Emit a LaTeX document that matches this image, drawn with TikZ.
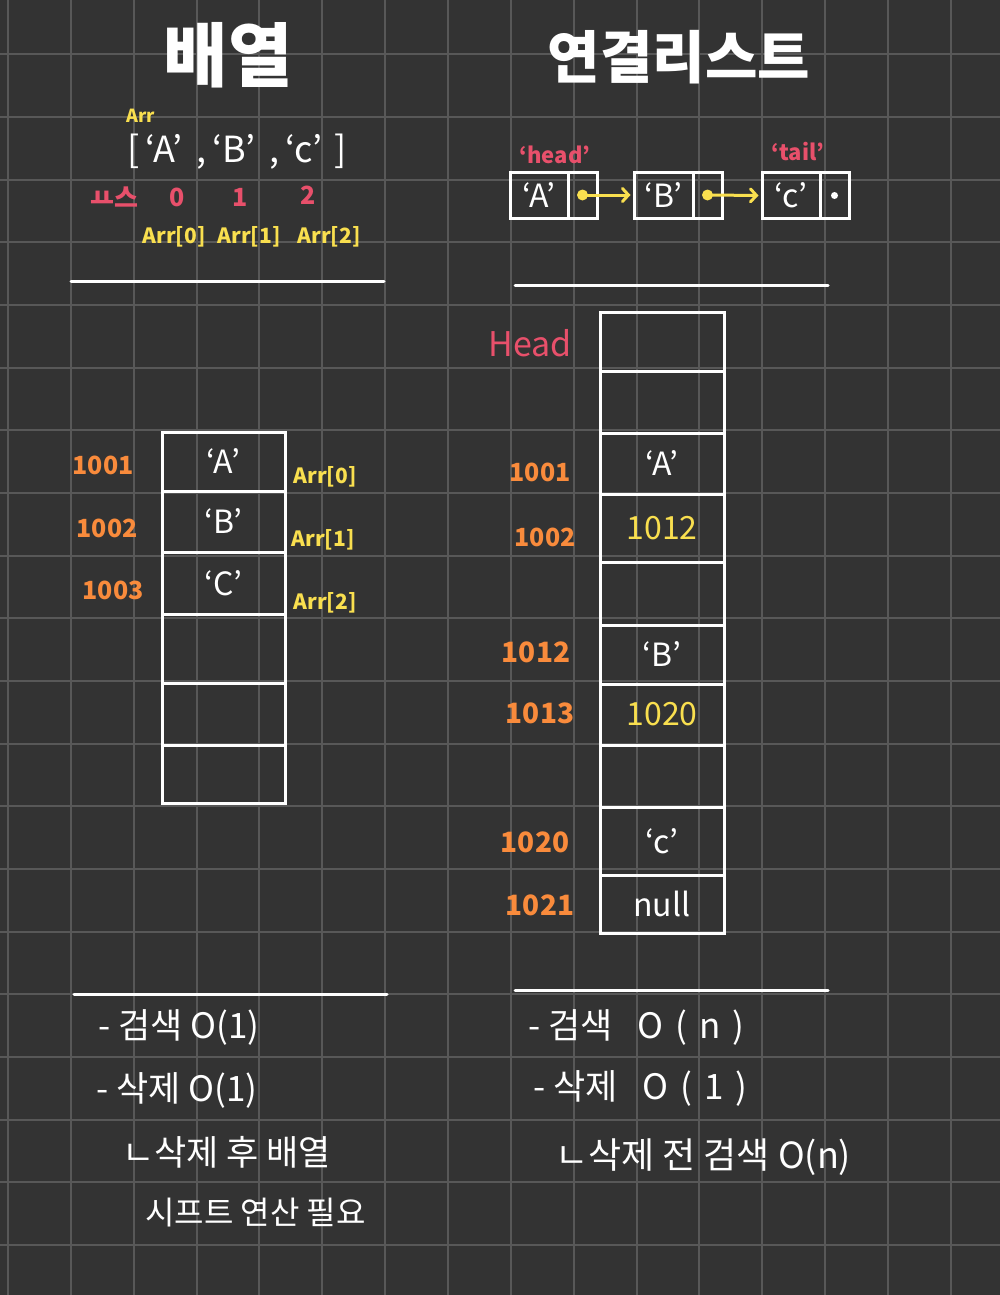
\documentclass[tikz,border=0pt]{standalone}
\usepackage{fontspec}
\setmainfont{Noto Sans CJK KR}
\usetikzlibrary{arrows.meta}
\definecolor{bgc}{HTML}{333333}
\definecolor{gridc}{HTML}{585858}
\definecolor{ylw}{HTML}{F9DF4F}
\definecolor{pnk}{HTML}{E8506B}
\definecolor{org}{HTML}{F98B3C}
\tikzset{
  gridline/.style={draw=gridc, line width=2pt},
  rule/.style={draw=white, line width=3pt, line cap=round},
  cell/.style={draw=white, line width=3pt, rectangle, inner sep=0pt, text=white, font=\fontsize{32}{34}\selectfont},
  title/.style={text=white, font=\bfseries\fontsize{70}{74}\selectfont, inner sep=0pt},
  wtxt/.style={text=white, inner sep=0pt, font=\fontsize{36}{38}\selectfont},
  ytxt/.style={text=ylw, inner sep=0pt, font=\bfseries\fontsize{21}{22}\selectfont},
  ptxt/.style={text=pnk, inner sep=0pt, font=\bfseries\fontsize{22}{24}\selectfont},
  otxt/.style={text=org, inner sep=0pt, font=\bfseries\fontsize{25}{26}\selectfont},
  note/.style={text=white, inner sep=0pt, anchor=west, font=\fontsize{35}{37}\selectfont},
  yarrow/.style={draw=ylw, line width=3pt, line cap=round, -{Straight Barb[length=6pt,width=13pt,line cap=round]}, shorten >=2pt},
}
\begin{document}
\begin{tikzpicture}[x=1pt,y=-1pt]
\fill[bgc] (0,0) rectangle (1000,1295);
\useasboundingbox (0,0) rectangle (1000,1295);
\foreach \i in {0,...,15} \draw[gridline] ({8+62.85*\i},0) -- ({8+62.85*\i},1295);
\foreach \j in {0,...,19} \draw[gridline] (0,{54.5+62.65*\j}) -- (1000,{54.5+62.65*\j});

% ===== left: array =====
\node[title] (t1) at (228,55) {배열};
\node[ytxt, font=\bfseries\fontsize{18}{20}\selectfont] (arrlbl) at (141,116) {Arr};
\node[wtxt] (arrlit) at (237,152) {[\,‘A’\, ,\,‘B’\, ,\,‘c’\,\,]};
\node[ptxt, font=\bfseries\fontsize{26}{28}\selectfont] (idx) at (114,197) {ㅛ스};
\node[ptxt, font=\bfseries\fontsize{25}{26}\selectfont] (i0) at (177,197) {0};
\node[ptxt, font=\bfseries\fontsize{25}{26}\selectfont] (i1) at (240,197) {1};
\node[ptxt, font=\bfseries\fontsize{25}{26}\selectfont] (i2) at (308,195) {2};
\node[ytxt] (a0) at (174,237) {Arr[0]};
\node[ytxt] (a1) at (249,237) {Arr[1]};
\node[ytxt] (a2) at (329,237) {Arr[2]};
\coordinate (r1a) at (71,281); \coordinate (r1b) at (384,281);
\draw[rule] (r1a) -- (r1b);

\node[cell, minimum width=123pt, minimum height=59pt] (c1) at (223.5,461.5) {‘A’};
\node[cell, minimum width=123pt, minimum height=61pt] (c2) at (223.5,521.5) {‘B’};
\node[cell, minimum width=123pt, minimum height=62pt] (c3) at (223.5,583) {‘C’};
\node[cell, minimum width=123pt, minimum height=69pt] (c4) at (223.5,648.5) {};
\node[cell, minimum width=123pt, minimum height=62pt] (c5) at (223.5,714) {};
\node[cell, minimum width=123pt, minimum height=58pt] (c6) at (223.5,774) {};

\node[otxt] (m1) at (103,465) {1001};
\node[otxt] (m2) at (107,528) {1002};
\node[otxt] (m3) at (113,590) {1003};
\node[ytxt] (b0) at (325,477) {Arr[0]};
\node[ytxt] (b1) at (323,540) {Arr[1]};
\node[ytxt] (b2) at (325,603) {Arr[2]};

\coordinate (r2a) at (74,994); \coordinate (r2b) at (387,994);
\draw[rule] (r2a) -- (r2b);
\node[note] (n1) at (98,1027) {- 검색 O(1)};
\node[note] (n2) at (96,1090) {- 삭제 O(1)};
\node[note] (n3) at (122,1152) {ㄴ삭제 후 배열};
\node[note, font=\fontsize{32}{34}\selectfont] (n4) at (145,1213) {시프트 연산 필요};

% ===== right: linked list =====
\node[title, font=\bfseries\fontsize{57}{60}\selectfont] (t2) at (679,57) {연결리스트};
\node[ptxt] (hd) at (555,155) {‘head’};
\node[ptxt] (tl) at (798,152) {‘tail’};

\node[cell, minimum width=58pt, minimum height=46pt] (av) at (539,195) {‘A’};
\node[cell, minimum width=29pt, minimum height=46pt] (ap) at (582.5,195) {};
\node[cell, minimum width=59pt, minimum height=46pt] (bv) at (663.5,195) {‘B’};
\node[cell, minimum width=29pt, minimum height=46pt] (bp) at (707.5,195) {};
\node[cell, minimum width=58pt, minimum height=46pt] (cv) at (791,195.5) {‘c’};
\node[cell, minimum width=29pt, minimum height=46pt] (cp) at (834.5,195.5) {};
\fill[ylw] (ap.center) circle (5.5pt);
\fill[ylw] (bp.center) circle (5.5pt);
\fill[white] (cp.center) circle (3.5pt);
\draw[yarrow] (ap.center) -- (bv.west);
\draw[yarrow] (bp.center) -- (cv.west);

\coordinate (r3a) at (515,285); \coordinate (r3b) at (828,285);
\draw[rule] (r3a) -- (r3b);
\node[ptxt, font=\fontsize{34}{36}\selectfont] (HH) at (530,343) {Head};

\node[cell, minimum width=124pt, minimum height=59pt] (k1) at (662,341.5) {};
\node[cell, minimum width=124pt, minimum height=62pt] (k2) at (662,402) {};
\node[cell, minimum width=124pt, minimum height=61pt] (k3) at (662,463.5) {‘A’};
\node[cell, minimum width=124pt, minimum height=68pt, text=ylw] (k4) at (662,528) {1012};
\node[cell, minimum width=124pt, minimum height=63pt] (k5) at (662,593.5) {};
\node[cell, minimum width=124pt, minimum height=59pt] (k6) at (662,654.5) {‘B’};
\node[cell, minimum width=124pt, minimum height=61pt, text=ylw] (k7) at (662,714.5) {1020};
\node[cell, minimum width=124pt, minimum height=62pt] (k8) at (662,776) {};
\node[cell, minimum width=124pt, minimum height=68pt] (k9) at (662,841) {‘c’};
\node[cell, minimum width=124pt, minimum height=58pt] (k10) at (662,904) {null};

\node[otxt] (q1) at (540,472) {1001};
\node[otxt] (q2) at (545,537) {1002};
\node[otxt, font=\bfseries\fontsize{28}{30}\selectfont] (q3) at (536,652) {1012};
\node[otxt, font=\bfseries\fontsize{28}{30}\selectfont] (q4) at (540,713) {1013};
\node[otxt, font=\bfseries\fontsize{28}{30}\selectfont] (q5) at (535,842) {1020};
\node[otxt, font=\bfseries\fontsize{28}{30}\selectfont] (q6) at (540,905) {1021};

\coordinate (r4a) at (515,990); \coordinate (r4b) at (828,990);
\draw[rule] (r4a) -- (r4b);
\node[note] (p1) at (528,1027) {- 검색 \enspace O\,\,(\,\,n\,\,)};
\node[note] (p2) at (533,1088) {- 삭제 \enspace O\,\,(\,\,1\,\,)};
\node[note, font=\fontsize{36}{38}\selectfont] (p3) at (555,1157) {ㄴ삭제 전 검색 O(n)};
\end{tikzpicture}
\end{document}
